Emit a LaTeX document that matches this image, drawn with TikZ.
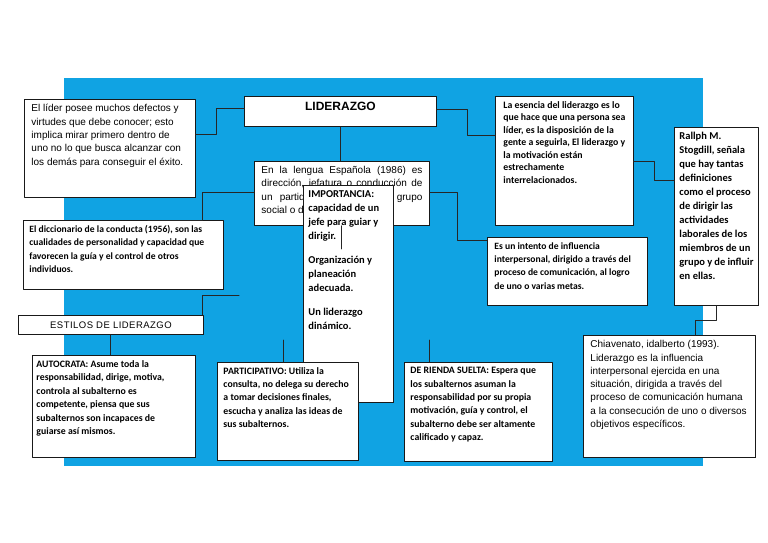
\documentclass[tikz,border=0pt]{standalone}
\usepackage{fontspec}
\newfontfamily\arialf{Liberation Sans}
\newfontfamily\arialesp{Liberation Sans}[LetterSpace=5]
\newfontfamily\calibf{Carlito}
\usetikzlibrary{shadows}
\definecolor{fondoazul}{RGB}{16,163,227}
\newcommand{\cajatxt}[3]{\parbox[t][#2][t]{#1}{\raggedright #3}}

\begin{document}
\begin{tikzpicture}[x=1pt,y=-1pt,line cap=round,line join=round]
\tikzset{
    caja/.style={draw=black!90, fill=white, line width=0.9pt, anchor=north west, inner xsep=6pt, inner ysep=5pt,
        drop shadow={shadow xshift=0.8pt, shadow yshift=-0.8pt, opacity=0.9, fill=black!80}},
    conector/.style={draw=black!85, line width=1pt},
    txtarial/.style={font=\arialf\fontsize{10}{13.3}\selectfont},
    txtcalib/.style={font=\calibf\bfseries\fontsize{9.8}{13.3}\selectfont},
}
\useasboundingbox (0,0) rectangle (768,543);
\fill[fondoazul] (64,78) rectangle (703,466);

\node[caja, txtarial, inner xsep=7pt] (elider) at (24,99) {\cajatxt{157pt}{88pt}{El líder posee muchos defectos y\\ virtudes que debe conocer; esto\\ implica mirar primero dentro de\\ uno no lo que busca alcanzar con\\ los demás para conseguir el éxito.}};
\node[caja, inner xsep=5pt, inner ysep=5.5pt, font=\arialf\bfseries\fontsize{12}{14}\selectfont] (lid) at (244,96) {\parbox[t][19pt][t]{182pt}{\centering LIDERAZGO}};
\node[caja, txtcalib, inner xsep=8pt, font=\calibf\bfseries\fontsize{9.8}{12.5}\selectfont] (esencia) at (495,96) {\cajatxt{122pt}{119pt}{La esencia del liderazgo es lo\\ que hace que una persona sea\\ líder, es la disposición de la\\ gente a seguirla, El liderazgo y\\ la motivación están\\ estrechamente\\ interrelacionados.}};
\node[caja, txtcalib, inner xsep=5pt, font=\calibf\bfseries\fontsize{10.5}{14}\selectfont] (rallph) at (674,127) {\cajatxt{74pt}{168pt}{Rallph M.\\ Stogdill, señala\\ que hay tantas\\ definiciones\\ como el proceso\\ de dirigir las\\ actividades\\ laborales de los\\ miembros de un\\ grupo y de influir\\ en ellas.}};
\node[caja, txtarial, inner xsep=7pt] (lengua) at (254,161) {\cajatxt{161pt}{54pt}{\makebox[\linewidth][s]{En la lengua Española (1986) es}\\ \makebox[\linewidth][s]{dirección, jefatura o conducción de}\\ \makebox[\linewidth][s]{un partido político, de un grupo}\\ social o de otra colectividad.}};
\node[caja, txtcalib, inner xsep=5pt, font=\calibf\bfseries\fontsize{10.5}{14}\selectfont] (importancia) at (303,185) {\cajatxt{80pt}{207pt}{IMPORTANCIA:\\ capacidad de un\\ jefe para guiar y\\ dirigir.\\[10pt] Organización y\\ planeación\\ adecuada.\\[10pt] Un liderazgo\\ dinámico.}};
\node[caja, txtcalib, font=\calibf\bfseries\fontsize{9.6}{13.3}\selectfont] (diccionario) at (23,220) {\cajatxt{188pt}{59pt}{El diccionario de la conducta (1956), son las\\ cualidades de personalidad y capacidad que\\ favorecen la guía y el control de otros\\ individuos.}};
\node[caja, txtcalib, inner xsep=7pt, font=\calibf\bfseries\fontsize{9.6}{13.3}\selectfont] (intento) at (487,237) {\cajatxt{146pt}{58pt}{Es un intento de influencia\\ interpersonal, dirigido a través del\\ proceso de comunicación, al logro\\ de uno o varias metas.}};
\node[caja, txtarial, inner xsep=7pt] (chiavenato) at (583,335) {\cajatxt{158pt}{112pt}{Chiavenato, idalberto (1993).\\ Liderazgo es la influencia\\ interpersonal ejercida en una\\ situación, dirigida a través del\\ proceso de comunicación humana\\ a la consecución de uno o diversos\\ objetivos específicos.}};
\node[caja, inner sep=0pt, minimum width=185pt, minimum height=19pt, font=\arialesp\fontsize{9.5}{11}\selectfont] (estilos) at (18,315) {ESTILOS DE LIDERAZGO};
\node[caja, txtcalib, inner xsep=4pt, font=\calibf\bfseries\fontsize{9.8}{13.5}\selectfont] (autocrata) at (32,355) {\cajatxt{155pt}{92pt}{AUTOCRATA: Asume toda la\\ responsabilidad, dirige, motiva,\\ controla al subalterno es\\ competente, piensa que sus\\ subalternos son incapaces de\\ guiarse así mismos.}};
\node[caja, txtcalib] (participativo) at (217,362) {\cajatxt{129pt}{88pt}{PARTICIPATIVO: Utiliza la\\ consulta, no delega su derecho\\ a tomar decisiones finales,\\ escucha y analiza las ideas de\\ sus subalternos.}};
\node[caja, txtcalib] (rienda) at (404,362) {\cajatxt{136pt}{89pt}{DE RIENDA SUELTA: Espera que\\ los subalternos asuman la\\ responsabilidad por su propia\\ motivación, guía y control, el\\ subalterno debe ser altamente\\ calificado y capaz.}};

\coordinate (libre1) at (239,295);
\coordinate (libre2) at (283,340);
\coordinate (libre3) at (429,340);

\draw[conector] ([yshift=-35pt]elider.north east) -- ++(21,0) |- ([yshift=-12pt]lid.north west);
\draw[conector] ([yshift=-13pt]lid.north east) -- ++(31,0) |- ([yshift=-39pt]esencia.north west);
\draw[conector] ([yshift=-65pt]esencia.north east) -- ++(21,0) |- ([yshift=-53pt]rallph.north west);
\draw[conector] (rallph.south) -- ++(0,15) -| ([xshift=112pt]chiavenato.north west);
\draw[conector] (lid.south) -- (lid.south |- lengua.north);
\draw[conector] (lengua.south) -- ++(0,23);
\draw[conector] ([yshift=-31pt]lengua.north west) -| ([xshift=-21pt]diccionario.north east) -- ++(-55,0);
\draw[conector] ([yshift=-31pt]lengua.north east) -- ++(28,0) |- ([yshift=-3pt]intento.north west);
\draw[conector] (libre1) -| ([xshift=-1pt]estilos.north east);
\draw[conector] (estilos.south) -- (estilos.south |- autocrata.north);
\draw[conector] (libre2) -- (libre2 |- participativo.north);
\draw[conector] (libre3) -- (libre3 |- rienda.north);
\end{tikzpicture}
\end{document}
